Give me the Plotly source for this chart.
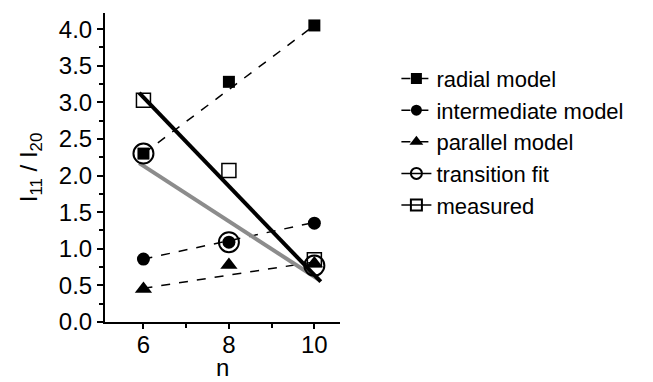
import plotly.graph_objects as go

n = [6, 8, 10]
radial = [2.30, 3.28, 4.05]
intermediate = [0.86, 1.09, 1.35]
parallel = [0.45, 0.78, 0.80]
transition = [2.30, 1.09, 0.77]
measured = [3.03, 2.07, 0.85]

# dashed model trend lines (endpoints)
fit_x = [6, 10]
radial_fit = [2.30, 4.05]
intermediate_fit = [0.86, 1.36]
parallel_fit = [0.46, 0.82]

# solid trend lines
measured_line_x = [5.9, 10.15]
measured_line_y = [3.13, 0.55]
transition_line_x = [5.9, 10.1]
transition_line_y = [2.17, 0.58]

FONT = "Liberation Sans, Arial, sans-serif"
fig = go.Figure()

dash_style = dict(color="black", width=1.5, dash="dash")
for fy in [radial_fit, intermediate_fit, parallel_fit]:
    fig.add_trace(go.Scatter(x=fit_x, y=fy, mode="lines", line=dash_style,
                             showlegend=False, hoverinfo="skip"))

fig.add_trace(go.Scatter(x=transition_line_x, y=transition_line_y, mode="lines",
                         line=dict(color="#8c8c8c", width=4), showlegend=False))
fig.add_trace(go.Scatter(x=measured_line_x, y=measured_line_y, mode="lines",
                         line=dict(color="black", width=4), showlegend=False))

series = [
    ("radial model", radial, dict(symbol="square", size=12, color="black")),
    ("intermediate model", intermediate, dict(symbol="circle", size=13, color="black")),
    ("parallel model", parallel, dict(symbol="triangle-up", size=15, color="black")),
    ("transition fit", transition, dict(symbol="circle-open", size=20, color="black",
                                        line=dict(width=2, color="black"))),
    ("measured", measured, dict(symbol="square-open", size=14, color="black",
                                line=dict(width=1.5, color="black"))),
]
for name, vals, mk in series:
    fig.add_trace(go.Scatter(x=n, y=vals, mode="markers", marker=mk,
                             showlegend=False, name=name))

# legend entries
legend_markers = [
    ("radial model", dict(symbol="square", size=11, color="black"), "dash"),
    ("intermediate model", dict(symbol="circle", size=11, color="black"), "dash"),
    ("parallel model", dict(symbol="triangle-up", size=12, color="black"), "dash"),
    ("transition fit", dict(symbol="circle-open", size=11, color="black",
                            line=dict(width=2, color="black")), "solid"),
    ("measured", dict(symbol="square-open", size=11, color="black",
                      line=dict(width=2, color="black")), "solid"),
]
for name, mk, d in legend_markers:
    fig.add_trace(go.Scatter(x=[None], y=[None], mode="lines+markers", name=name,
                             marker=mk, line=dict(color="black", width=1.5, dash=d)))

fig.update_layout(
    width=653, height=382,
    margin=dict(l=105, r=313, t=13, b=60),
    plot_bgcolor="white", paper_bgcolor="white",
    font=dict(family=FONT, size=24, color="black"),
    showlegend=True,
    legend=dict(x=1.24, y=0.855, xanchor="left", yanchor="top",
                font=dict(size=22, family=FONT), itemwidth=30,
                tracegroupgap=0, bgcolor="rgba(0,0,0,0)"),
    xaxis=dict(range=[5.1, 10.6], tickvals=[6, 8, 10], showgrid=False, zeroline=False,
               showline=True, linecolor="black", linewidth=2, automargin=False,
               ticks="outside", ticklen=5, tickwidth=2, tickcolor="black",
               ticklabelstandoff=-5,
               minor=dict(tickvals=[7, 9], ticks="outside", ticklen=4, tickwidth=2, tickcolor="black"),
               tickfont=dict(size=24)),
    yaxis=dict(range=[0, 4.22], tickvals=[0, 0.5, 1, 1.5, 2, 2.5, 3, 3.5, 4],
               ticktext=["0.0", "0.5", "1.0", "1.5", "2.0", "2.5", "3.0", "3.5", "4.0"],
               showgrid=False, zeroline=False, automargin=False,
               showline=True, linecolor="black", linewidth=2,
               ticks="outside", ticklen=6, tickwidth=2, tickcolor="black",
               minor=dict(tickvals=[0.25, 0.75, 1.25, 1.75, 2.25, 2.75, 3.25, 3.75],
                          ticks="outside", ticklen=4, tickwidth=2, tickcolor="black"),
               title=dict(text="I<sub>11</sub> / I<sub>20</sub>", font=dict(size=24), standoff=14),
               tickfont=dict(size=24)),
    annotations=[dict(text="n", xref="paper", yref="paper", x=0.5, y=0,
                      xanchor="center", yanchor="bottom", yshift=-61, showarrow=False,
                      font=dict(size=24, family=FONT))],
)

fig.write_html("out.html", config={"displayModeBar": False},
               post_script="document.body.style.margin='0';")
